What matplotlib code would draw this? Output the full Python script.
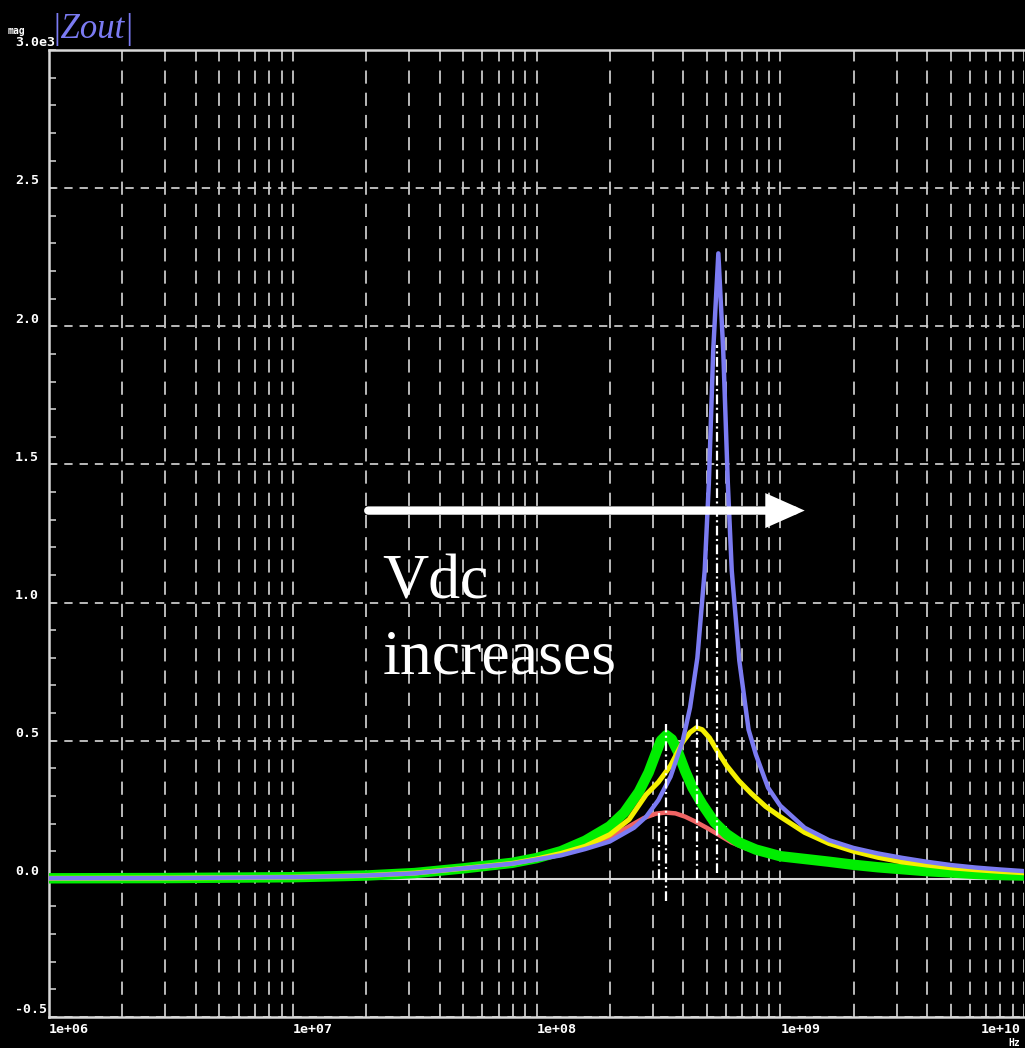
import numpy as np
import matplotlib
matplotlib.use("Agg")
import matplotlib.pyplot as plt
from matplotlib.ticker import FixedLocator, NullFormatter

# |Zout| magnitude (ohms); frequency given as log10(Hz)
lf_blue = [6.0, 6.5, 7.0, 7.3, 7.5, 7.7, 7.9, 8.0, 8.1, 8.2, 8.3, 8.4, 8.45, 8.5,
           8.55, 8.6, 8.63, 8.66, 8.69, 8.707, 8.725, 8.746, 8.766, 8.785, 8.801,
           8.832, 8.87, 8.9, 8.95, 9.0, 9.1, 9.2, 9.3, 9.4, 9.5, 9.6, 9.7, 9.8,
           9.9, 10.0]
mag_blue = [2, 3, 6, 12, 20, 38, 55, 70, 85, 108, 135, 185, 225, 285,
            370, 500, 620, 800, 1116, 1431, 1913, 2264, 1913, 1431, 1116,
            790, 540, 450, 330, 265, 185, 140, 112, 92, 76, 62, 50, 41,
            34, 28]

lf_yellow = [6.0, 6.5, 7.0, 7.3, 7.5, 7.7, 7.9, 8.0, 8.1, 8.2, 8.3, 8.38, 8.45,
             8.5, 8.55, 8.6, 8.63, 8.656, 8.68, 8.71, 8.74, 8.78, 8.83, 8.88,
             8.94, 9.0, 9.1, 9.2, 9.3, 9.4, 9.5, 9.6, 9.7, 9.8, 9.9, 10.0]
mag_yellow = [2, 3, 6, 12, 21, 38, 56, 72, 92, 118, 160, 215, 305,
              350, 410, 495, 530, 547, 540, 510, 465, 410, 355, 310,
              262, 225, 168, 128, 100, 78, 61, 50, 40, 33, 27, 22]

lf_green = [6.0, 6.5, 7.0, 7.3, 7.5, 7.7, 7.9, 8.0, 8.1, 8.2, 8.3, 8.36, 8.42,
            8.46, 8.49, 8.51, 8.533, 8.555, 8.58, 8.61, 8.64, 8.68, 8.73, 8.78,
            8.83, 8.9, 9.0, 9.1, 9.2, 9.3, 9.4, 9.5, 9.6, 9.7, 9.8, 9.9, 10.0]
mag_green = [2, 3, 6, 12, 21, 38, 58, 75, 100, 138, 190, 240, 315,
             385, 455, 500, 520, 505, 460, 390, 330, 270, 205, 162,
             132, 106, 82, 72, 62, 51, 42, 35, 28, 23, 18, 14, 12]

lf_red = [6.0, 7.0, 7.5, 7.7, 7.9, 8.0, 8.1, 8.2, 8.3, 8.38, 8.44, 8.49, 8.53,
          8.57, 8.61, 8.65, 8.7, 8.75, 8.8, 8.86, 8.95, 9.1, 9.3, 9.5, 9.7, 10.0]
mag_red = [2, 6, 20, 36, 54, 68, 88, 115, 150, 190, 220, 236, 240,
           237, 225, 208, 184, 158, 132, 110, 88, 65, 45, 32, 22, 12]

# marker lines: log10 frequency, top and bottom magnitude
marker_lf = [8.504, 8.533, 8.66, 8.742]
marker_top = [246, 562, 583, 1931]
marker_bottom = [0, -80, 0, 22]

x_major = [1e6, 1e7, 1e8, 1e9, 1e10]
x_labels = ["1e+06", "1e+07", "1e+08", "1e+09", "1e+10"]
y_major = [-500, 0, 500, 1000, 1500, 2000, 2500, 3000]
y_labels = ["-0.5", "0.0", "0.5", "1.0", "1.5", "2.0", "2.5", "3.0e3"]

plt.rcParams['lines.scale_dashes'] = False
grid_col = '#c8c8c8'
label_font = dict(family='DejaVu Sans Mono', weight='bold', size=9.5, color='white')

fig = plt.figure(figsize=(10.25, 10.48), dpi=100, facecolor='black')
ax = fig.add_axes([49 / 1025, 31 / 1048, 975 / 1025, 967 / 1048], facecolor='black')
ax.set_xscale('log')
ax.set_xlim(1e6, 1e10)
ax.set_ylim(-500, 3000)

# dashed grid
ax.xaxis.set_major_locator(FixedLocator(x_major))
minor = [m * d for d in x_major[:-1] for m in range(2, 10)]
ax.xaxis.set_minor_locator(FixedLocator(minor))
ax.xaxis.set_major_formatter(NullFormatter())
ax.xaxis.set_minor_formatter(NullFormatter())
ax.set_yticks(y_major)
ax.set_yticklabels([])
ax.yaxis.set_minor_locator(FixedLocator(np.arange(-500, 3001, 100)))
ax.grid(True, which='both', axis='x', color=grid_col, lw=1.3, ls=(0, (9.5, 6.5)))
ax.grid(True, which='major', axis='y', color=grid_col, lw=1.3, ls=(0, (6, 5)))
ax.tick_params(axis='x', which='both', length=0)
ax.tick_params(axis='y', which='both', direction='in', length=5, width=1.2, color=grid_col)
ax.set_axisbelow(True)
for s in ['left', 'top', 'bottom']:
    ax.spines[s].set_color('#d8d8d8')
    ax.spines[s].set_linewidth(1.8)
ax.spines['right'].set_visible(False)
ax.axhline(0, color='#d8d8d8', lw=1.5, zorder=1.5)

# curves
ax.plot(np.power(10, lf_red), mag_red, color='#f06464', lw=3.2, zorder=3)
ax.plot(np.power(10, lf_green), mag_green, color='#00ee00', lw=7.5, zorder=4)
ax.plot(np.power(10, lf_yellow), mag_yellow, color='#f4f000', lw=3.6, zorder=5)
ax.plot(np.power(10, lf_blue), mag_blue, color='#7b7bf2', lw=3.2, zorder=6)

# markers
ax.vlines(np.power(10, marker_lf), marker_bottom, marker_top, colors='white', lw=1.6,
          linestyles=[(0, (7, 2.5, 1.5, 2.5))], zorder=7)

# axis labels
for x, lab in zip(x_major, x_labels):
    dx = -31 if x == 1e10 else 0
    ax.annotate(lab, xy=(x, 0), xycoords=('data', 'axes fraction'),
                xytext=(dx, -4), textcoords='offset points',
                ha='left', va='top', **label_font)
for y, lab in zip(y_major, y_labels):
    ax.annotate(lab, xy=(0, y), xycoords=('axes fraction', 'data'),
                xytext=(-24.5, 0.5), textcoords='offset points',
                ha='left', va='bottom', **label_font)
ax.annotate("mag", xy=(0, 3000), xycoords=('axes fraction', 'data'),
            xytext=(-30, 10), textcoords='offset points',
            ha='left', va='bottom', family='DejaVu Sans Mono', weight='bold',
            size=7, color='white')
ax.annotate("Hz", xy=(1, 0), xycoords='axes fraction',
            xytext=(-11, -15), textcoords='offset points',
            ha='left', va='top', family='DejaVu Sans Mono', weight='bold',
            size=7, color='white')

fig.text(51 / 1025, 1 - 38 / 1048, "|Zout|", color='#7b7bf2', family='Liberation Serif',
         style='italic', size=25, ha='left', va='baseline')

# annotation
ax.annotate("", xy=(1.26e9, 1333), xytext=(2.04e7, 1333),
            arrowprops=dict(arrowstyle='-|>,head_length=0.9,head_width=0.4',
                            lw=6, color='white', shrinkA=0, shrinkB=0,
                            mutation_scale=20, capstyle='round', joinstyle='miter'),
            zorder=8)
ax.text(2.34e7, 1014, "Vdc", color='white', family='Liberation Serif', size=46,
        ha='left', va='baseline', zorder=8)
ax.text(2.34e7, 743, "increases", color='white', family='Liberation Serif', size=46,
        ha='left', va='baseline', zorder=8)

fig.savefig("out.png", dpi=100, facecolor='black')
